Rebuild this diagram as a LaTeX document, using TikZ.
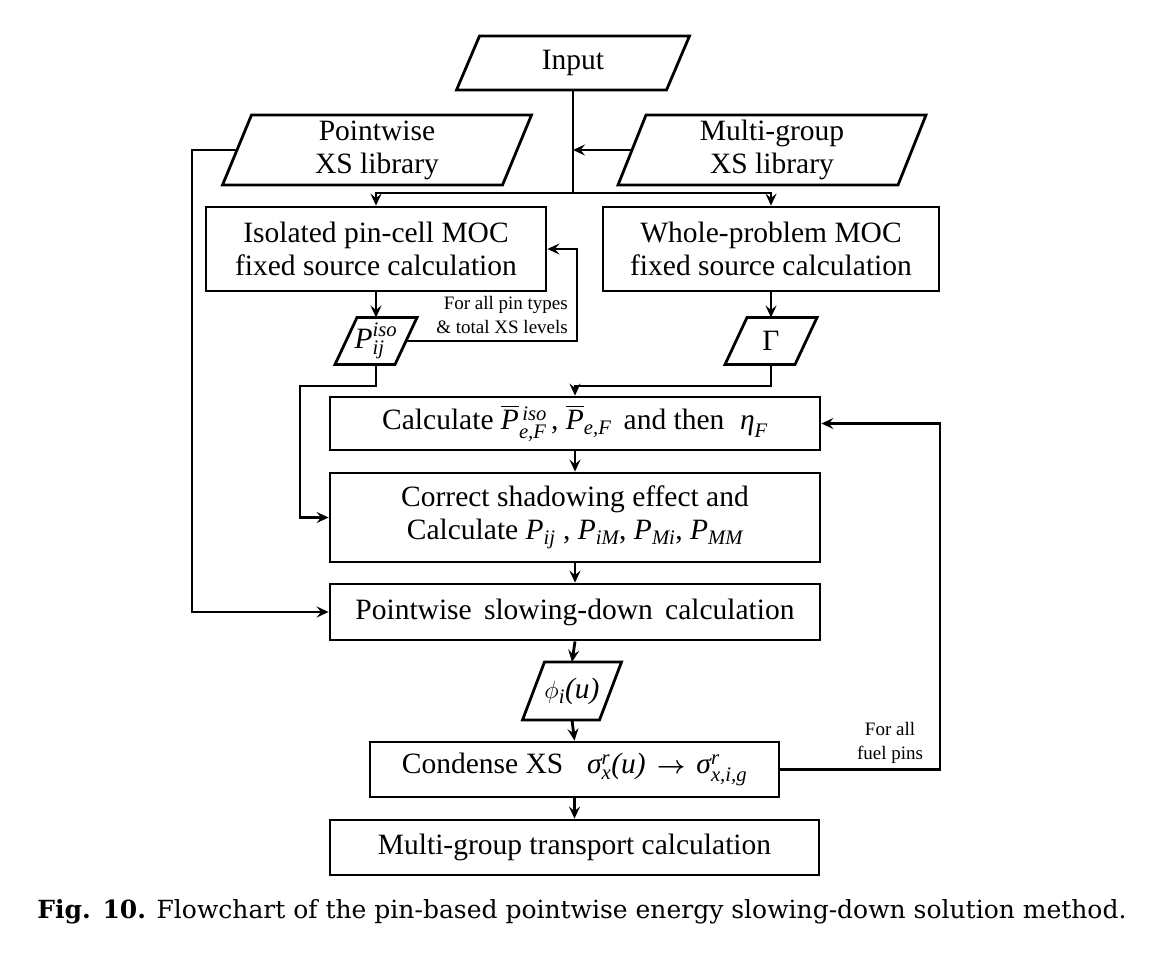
\documentclass[tikz,border=0pt]{standalone}
\usepackage{amsmath}
\usepackage{fontspec}
\setmainfont{Liberation Serif}
\newfontfamily\capfont{DejaVu Serif}
\usetikzlibrary{arrows.meta,calc}
\newcommand\mi[1]{\text{\itshape #1}}
\tikzset{
  ln/.style={line width=2.8pt, line join=miter},
  arr/.style={ln, -{Stealth[length=12pt,width=11pt,inset=4.5pt]}},
  box/.style={draw, line width=2.8pt, inner sep=0pt, align=center, font=\fontsize{29.5}{33}\selectfont},
  txt/.style={inner sep=0pt, align=center, font=\fontsize{29.5}{33}\selectfont},
  lbl/.style={inner sep=0pt, font=\fontsize{19}{24}\selectfont},
}
% name, cx, cy, top-edge width, height, slant, content
\newcommand\paral[7]{%
  \node[txt] (#1) at (#2,#3) {#7};
  \draw[ln] ($(#1.center)+({-(#4+#6)/2},{#5/2})$) -- ++(#6,-#5) -- ++(#4,0) -- ++(-#6,#5) -- cycle;
  \coordinate (#1-w) at ($(#1.center)+({-#4/2},0)$);
  \coordinate (#1-e) at ($(#1.center)+({#4/2},0)$);
  \coordinate (#1-n) at ($(#1.center)+(0,{-#5/2})$);
  \coordinate (#1-s) at ($(#1.center)+(0,{#5/2})$);
}
\begin{document}
\begin{tikzpicture}[x=1pt,y=-1pt]
\useasboundingbox (0,0) rectangle (1164,958);
\fill[white] (0,0) rectangle (1164,958);

\paral{inp}{573}{63}{210}{54}{23}{Input}
\paral{pw}{377}{150}{280}{70}{29}{Pointwise\\XS library}
\paral{mg}{772}{150}{280}{70}{28}{Multi-group\\XS library}

\node[box, minimum width=340pt, minimum height=84pt] (iso) at (376,249) {Isolated pin-cell MOC\\fixed source calculation};
\node[box, minimum width=336pt, minimum height=84pt] (whole) at (771,249) {Whole-problem MOC\\fixed source calculation};

\paral{pij}{376}{341}{60}{47}{22}{$\mi{P}^{\mi{iso}}_{\mi{ij}}$}
\paral{gam}{771}{341}{70}{47}{22}{Γ}

\node[box, minimum width=490pt, minimum height=53pt] (calc) at (575,423.5)
  {Calculate $\overline{\mi{P}}{}^{\,\mi{iso}}_{\mi{e,F}}\,$, $\overline{\mi{P}}_{\mi{e,F}}$\, and then\; $\mi{η}_{\mi{F}}$};
\node[box, minimum width=490pt, minimum height=89pt] (corr) at (575,517.5)
  {Correct shadowing effect and\\Calculate $\mi{P}_{\mi{ij}}$ , $\mi{P}_{\mi{iM}}$, $\mi{P}_{\mi{Mi}}$, $\mi{P}_{\mi{MM}}$};
\node[box, minimum width=490pt, minimum height=56pt] (slow) at (575,612) {Pointwise\, slowing-down\, calculation};

\paral{phi}{572}{691}{77}{58}{22}{$\phi_{\mi{i}}\mi{(u)}$}

\node[box, minimum width=409pt, minimum height=55pt] (cond) at (574.5,769.5)
  {Condense XS\;\; $\mi{σ}^{\mi{r}}_{\mi{x}}\mi{(u)}\,\boldsymbol{\rightarrow}\,\mi{σ}^{\mi{r}}_{\mi{x,i,g}}$};
\node[box, minimum width=489pt, minimum height=55pt] (trans) at (574.5,847.5) {Multi-group transport calculation};

% connectors
\coordinate (split) at (573,193);
\coordinate (lx) at (192,0);
\coordinate (fbx) at (577,0);
\coordinate (j1) at (0,386);
\coordinate (j2) at (300,386);
\coordinate (rx) at (940,0);

\draw[ln] (inp-s) -- (split);
\draw[arr] (split) -| (iso.north);
\draw[arr] (split) -| (whole.north);
\draw[arr] (mg-w) -- (mg-w -| split);
\draw[arr] (pw-w) -- (pw-w -| lx) |- (slow.west);

\draw[arr] (iso.south) -- (pij-n);
\draw[arr] (pij-e) -- (pij-e -| fbx) |- (iso.east);
\node[lbl, anchor=south east, align=right] (lab1) at (568,334) {For all pin types\\\& total XS levels};

\draw[arr] (whole.south) -- (gam-n);
\draw[arr] (gam-s) -- (gam-s |- j1) -| (calc.north);
\draw[arr] (pij-s) |- (j2) |- (corr.west);

\draw[arr] (calc.south) -- (corr.north);
\draw[arr] (corr.south) -- (slow.north);
\draw[arr] (slow.south) -- (phi-n);
\draw[arr] (phi-s) -- (cond.north);
\draw[arr] (cond.south) -- (trans.north);

\draw[arr] (cond.east) -- (cond.east -| rx) |- (calc.east);
\node[lbl, anchor=south, align=center] (lab2) at (890,764) {For all\\fuel pins};

\node[inner sep=0pt, font=\capfont\fontsize{25}{29}\selectfont] (cap) at (582,912)
  {\textbf{Fig. 10.} Flowchart of the pin-based pointwise energy slowing-down solution method.};
\end{tikzpicture}
\end{document}
